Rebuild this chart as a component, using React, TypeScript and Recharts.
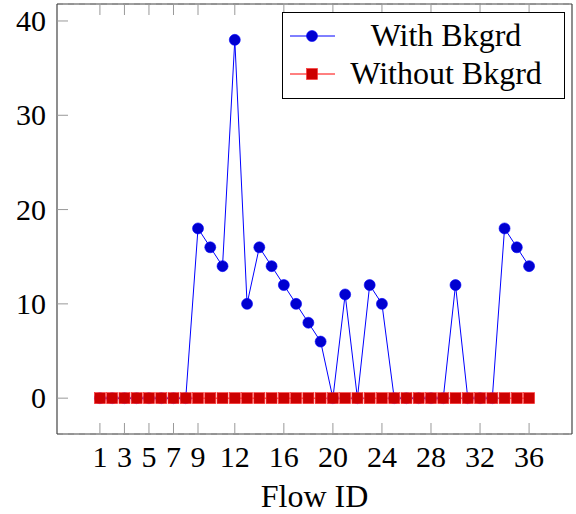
import { CartesianGrid, Legend, Line, LineChart, XAxis, YAxis } from "recharts";

const flowIds = Array.from({ length: 36 }, (_, i) => i + 1);
const withBkgrd = [0, 0, 0, 0, 0, 0, 0, 0, 18, 16, 14, 38, 10, 16, 14, 12, 10, 8, 6, 0, 11, 0, 12, 10, 0, 0, 0, 0, 0, 12, 0, 0, 0, 18, 16, 14];
const withoutBkgrd = [0, 0, 0, 0, 0, 0, 0, 0, 0, 0, 0, 0, 0, 0, 0, 0, 0, 0, 0, 0, 0, 0, 0, 0, 0, 0, 0, 0, 0, 0, 0, 0, 0, 0, 0, 0];
const xTicks = [1, 3, 5, 7, 9, 12, 16, 20, 24, 28, 32, 36];
const yTicks = [0, 10, 20, 30, 40];

const data = flowIds.map((id, i) => ({ id, with: withBkgrd[i], without: withoutBkgrd[i] }));

const font = "'Liberation Serif', 'DejaVu Serif', serif";
const tickGray = "#999";

const BottomTick = (props: any) => {
  const { x, y, payload } = props;
  return (
    <g>
      <line x1={x} x2={x} y1={y} y2={y - 11} stroke={tickGray} strokeWidth={1} />
      <text x={x} y={y + 33} textAnchor="middle" fontSize={30} fontFamily={font} fill="#000">{payload.value}</text>
    </g>
  );
};

const TopTick = (props: any) => {
  const { x, y } = props;
  return <line x1={x} x2={x} y1={y} y2={y + 11} stroke={tickGray} strokeWidth={1} />;
};

const LeftTick = (props: any) => {
  const { x, y, payload } = props;
  return (
    <g>
      <line x1={x} x2={x + 11} y1={y} y2={y} stroke={tickGray} strokeWidth={1} />
      <text x={x - 11} y={y + 10} textAnchor="end" fontSize={30} fontFamily={font} fill="#000">{payload.value}</text>
    </g>
  );
};

const RightTick = (props: any) => {
  const { x, y } = props;
  return <line x1={x} x2={x - 11} y1={y} y2={y} stroke={tickGray} strokeWidth={1} />;
};

const Square = (props: any) => {
  const { cx, cy } = props;
  return <rect x={cx - 5.5} y={cy - 5.5} width={11} height={11} fill="#cc0000" stroke="#ff3030" strokeWidth={0.6} />;
};

const AxisTitle = (props: any) => {
  const { viewBox } = props;
  return (
    <text x={viewBox.x + viewBox.width / 2} y={507} textAnchor="middle" fontSize={32} fontFamily={font} fill="#000">
      Flow ID
    </text>
  );
};

const LegendBox = () => (
  <svg width={283} height={87}>
    <rect x={0.5} y={0.5} width={282} height={86} fill="#fff" stroke="#000" strokeWidth={1} />
    <line x1={8} x2={53} y1={24} y2={24} stroke="#0000ff" strokeWidth={1} />
    <circle cx={30} cy={24} r={5.5} fill="#0000d0" stroke="#0000ff" strokeWidth={0.6} />
    <text x={164} y={34} textAnchor="middle" fontSize={32} fontFamily={font}>With Bkgrd</text>
    <line x1={8} x2={53} y1={62} y2={62} stroke="#ff0000" strokeWidth={1} />
    <rect x={24.5} y={56.5} width={11} height={11} fill="#cc0000" stroke="#ff3030" strokeWidth={0.6} />
    <text x={164} y={72} textAnchor="middle" fontSize={32} fontFamily={font}>Without Bkgrd</text>
  </svg>
);

export default function App() {
  return (
    <div style={{ position: "absolute", left: 0, top: 0, background: "#fff" }}>
      <LineChart width={576} height={514} data={data} margin={{ top: 0, right: 0, left: 0, bottom: 0 }}>
        <CartesianGrid vertical={false} stroke="#c8c8c8" strokeDasharray="6 5" />
        <XAxis
          xAxisId="bottom"
          dataKey="id"
          type="number"
          domain={[-2.5, 39.5]}
          ticks={xTicks}
          interval={0}
          height={80}
          tickSize={0}
          tickMargin={0}
          tickLine={false}
          axisLine={{ stroke: "#444", strokeWidth: 1.2 }}
          tick={<BottomTick />}
          label={<AxisTitle />}
        />
        <XAxis
          xAxisId="top"
          orientation="top"
          dataKey="id"
          type="number"
          domain={[-2.5, 39.5]}
          ticks={xTicks}
          interval={0}
          height={4}
          tickSize={0}
          tickMargin={0}
          tickLine={false}
          axisLine={{ stroke: "#444", strokeWidth: 1.2 }}
          tick={<TopTick />}
        />
        <YAxis
          yAxisId="left"
          type="number"
          domain={[-3.8, 41.8]}
          ticks={yTicks}
          interval={0}
          width={57}
          tickSize={0}
          tickMargin={0}
          tickLine={false}
          axisLine={{ stroke: "#444", strokeWidth: 1.2 }}
          tick={<LeftTick />}
        />
        <YAxis
          yAxisId="right"
          orientation="right"
          type="number"
          domain={[-3.8, 41.8]}
          ticks={yTicks}
          interval={0}
          width={4}
          tickSize={0}
          tickMargin={0}
          tickLine={false}
          axisLine={{ stroke: "#444", strokeWidth: 1.2 }}
          tick={<RightTick />}
        />
        <Legend
          layout="vertical"
          verticalAlign="middle"
          align="center"
          content={<LegendBox />}
          wrapperStyle={{ position: "absolute", left: 282, top: 12, width: 283, height: 87 }}
        />
        <Line
          xAxisId="bottom"
          yAxisId="left"
          dataKey="with"
          name="With Bkgrd"
          stroke="#0000ff"
          strokeWidth={1}
          dot={{ r: 5.5, fill: "#0000d0", stroke: "#0000ff", strokeWidth: 0.6 }}
          activeDot={false}
          isAnimationActive={false}
        />
        <Line
          xAxisId="bottom"
          yAxisId="left"
          dataKey="without"
          name="Without Bkgrd"
          stroke="#ff0000"
          strokeWidth={1}
          dot={<Square />}
          activeDot={false}
          isAnimationActive={false}
        />
      </LineChart>
    </div>
  );
}
